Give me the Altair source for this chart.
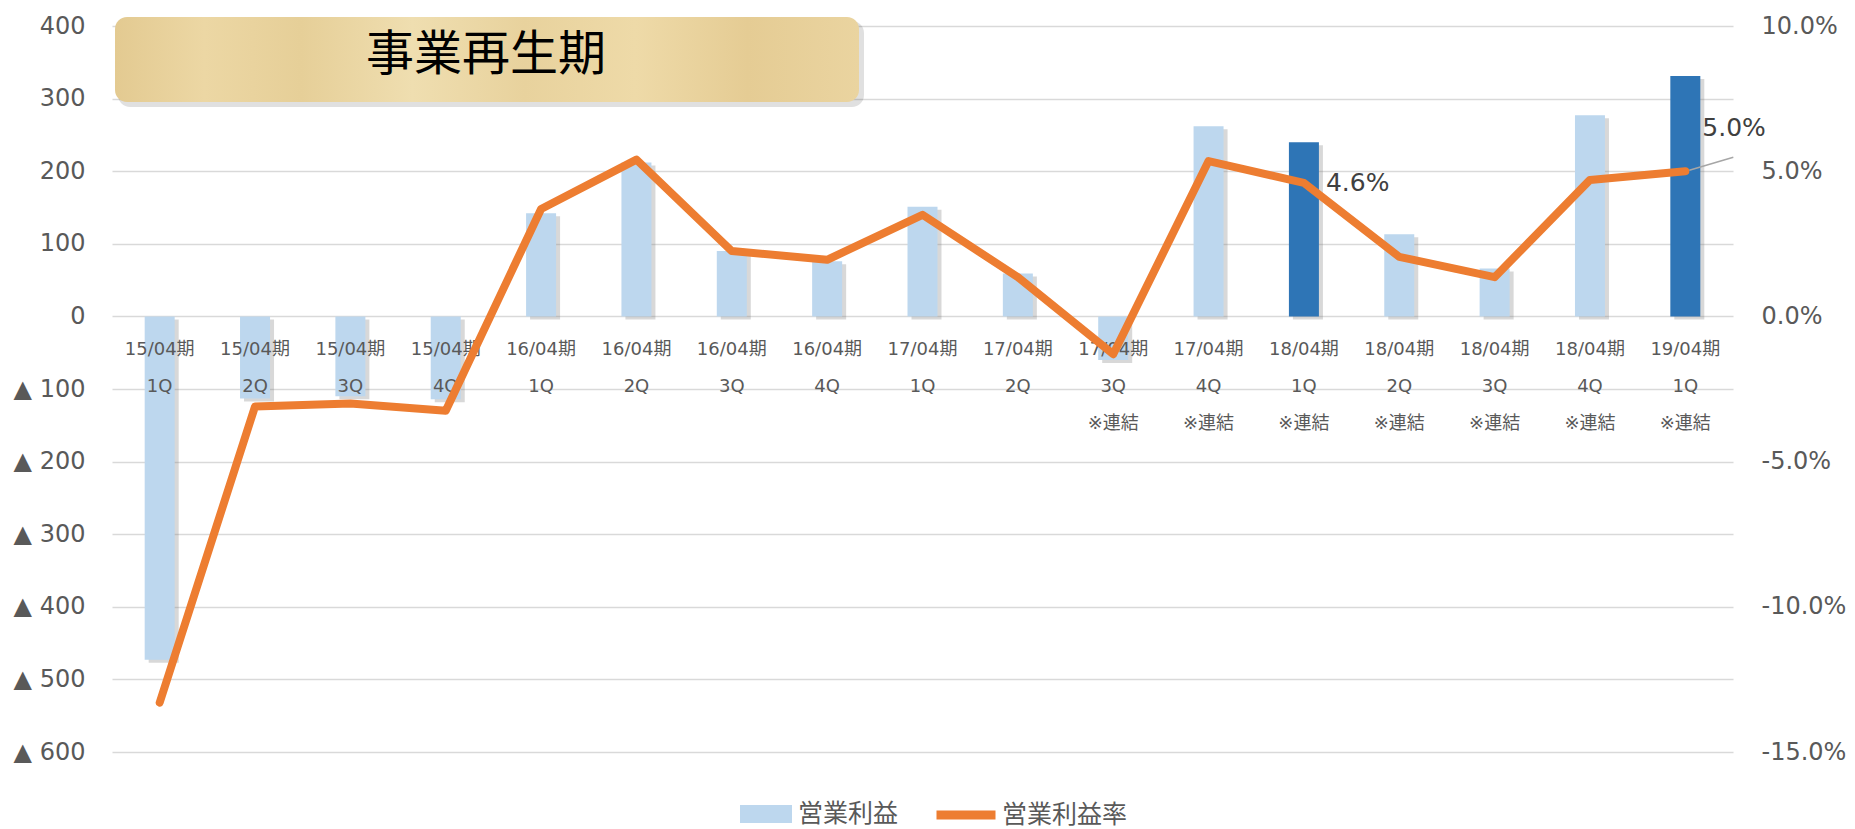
import altair as alt
import pandas as pd

# ---- data ----
periods = ["15/04期", "15/04期", "15/04期", "15/04期",
           "16/04期", "16/04期", "16/04期", "16/04期",
           "17/04期", "17/04期", "17/04期", "17/04期",
           "18/04期", "18/04期", "18/04期", "18/04期",
           "19/04期"]
quarters = ["1Q", "2Q", "3Q", "4Q", "1Q", "2Q", "3Q", "4Q",
            "1Q", "2Q", "3Q", "4Q", "1Q", "2Q", "3Q", "4Q", "1Q"]
consolidated = [0, 0, 0, 0, 0, 0, 0, 0, 0, 0, 1, 1, 1, 1, 1, 1, 1]
profit = [-473, -113, -110, -114, 142, 212, 90, 76, 151, 59, -60, 262, 240, 113, 66, 277, 331]
rate = [-13.3, -3.1, -3.0, -3.25, 3.7, 5.4, 2.25, 1.95, 3.5, 1.35, -1.3, 5.35, 4.6, 2.05, 1.35, 4.7, 5.0]
highlight = [0, 0, 0, 0, 0, 0, 0, 0, 0, 0, 0, 0, 1, 0, 0, 0, 1]
title_text = ["事業再生期"]

cats = [p + "|" + q + ("|※連結" if c else "") for p, q, c in zip(periods, quarters, consolidated)]
df = pd.DataFrame({
    "cat": cats, "profit": profit, "rate": rate, "hl": highlight,
    "s1": "営業利益", "s2": "営業利益率",
})

FONT = "DejaVu Sans, Noto Sans CJK JP"
GREY = "#595959"

x = alt.X("cat:N", sort=cats, axis=None, scale=alt.Scale(paddingInner=0, paddingOuter=0))
ly = alt.Scale(domain=[-600, 400], nice=False, zero=False)
ry = alt.Scale(domain=[-15, 10], nice=False, zero=False)

left_axis = alt.Axis(
    orient="left", values=list(range(-600, 401, 100)),
    labelExpr="datum.value < 0 ? '▲ ' + abs(datum.value) : '' + datum.value",
    grid=True, gridColor="#d9d9d9", gridWidth=1.5, domain=False, ticks=False,
    labelPadding=27, labelFontSize=24, labelFont=FONT, labelColor=GREY, title=None,
)
right_axis = alt.Axis(
    orient="right", values=[-15, -10, -5, 0, 5, 10],
    labelExpr="(datum.value < 0 ? '-' : '') + format(abs(datum.value), '.1f') + '%'",
    grid=False, domain=False, ticks=False,
    labelPadding=28, labelFontSize=24, labelFont=FONT, labelColor=GREY, title=None,
)

base = alt.Chart(df)

bar_shadow = base.mark_bar(size=30, color="#7f7f7f", opacity=0.3, xOffset=4, yOffset=3).encode(
    x=x, y=alt.Y("profit:Q", scale=ly, axis=left_axis))

bars = base.mark_bar(size=30).encode(
    x=x,
    y=alt.Y("profit:Q", scale=ly, axis=left_axis),
    fill=alt.condition(
        "datum.hl == 1", alt.value("#2E75B6"),
        alt.Fill("s1:N", scale=alt.Scale(domain=["営業利益"], range=["#BDD7EE"]),
                 legend=alt.Legend(title=None, orient="none", legendX=628, legendY=762,
                                   symbolType="M-1,-0.35H1V0.35H-1Z", symbolSize=2704,
                                   symbolStrokeWidth=0, labelFontSize=25, labelFont=FONT,
                                   labelColor=GREY, labelOffset=6, padding=0)),
    ),
)

xlabels = base.mark_text(baseline="top", lineBreak="|", lineHeight=37, fontSize=18,
                         font=FONT, color=GREY, dy=25).encode(
    x=x, y=alt.YDatum(0, type="quantitative", scale=ly, axis=left_axis), text="cat:N")

left = alt.layer(bar_shadow, bars, xlabels)

line = base.mark_line(strokeWidth=8, strokeCap="round", strokeJoin="round").encode(
    x=x,
    y=alt.Y("rate:Q", scale=ry, axis=right_axis),
    stroke=alt.Stroke("s2:N", scale=alt.Scale(domain=["営業利益率"], range=["#ED7D31"]),
                      legend=alt.Legend(title=None, orient="none", legendX=820, legendY=755,
                                        symbolType="stroke", symbolSize=3481,
                                        symbolStrokeWidth=9, labelFontSize=25, labelFont=FONT,
                                        labelColor=GREY, labelOffset=2, padding=0)),
)

lab1 = base.transform_filter(alt.datum.cat == cats[12]).transform_calculate(
    lbl="format(datum.rate, '.1f') + '%'").mark_text(
    align="left", baseline="middle", dx=22, fontSize=25, font=FONT, color="#404040").encode(
    x=x, y=alt.Y("rate:Q", scale=ry, axis=right_axis), text="lbl:N")

lab2 = base.transform_filter(alt.datum.cat == cats[16]).transform_calculate(
    lbl="format(datum.rate, '.1f') + '%'").mark_text(
    align="left", baseline="middle", dx=17, dy=-43, fontSize=25, font=FONT, color="#404040").encode(
    x=x, y=alt.Y("rate:Q", scale=ry, axis=right_axis), text="lbl:N")

leader = base.transform_filter(alt.datum.cat == cats[16]).mark_rule(
    color="#a6a6a6", strokeWidth=1.5, xOffset=4, x2Offset=48, yOffset=-1, y2Offset=-14).encode(
    x=alt.X("cat:N", sort=cats, axis=None, bandPosition=0.5),
    x2=alt.X2("cat:N", bandPosition=0.5),
    y=alt.Y("rate:Q", scale=ry, axis=right_axis),
    y2=alt.Y2("rate:Q"),
)

right = alt.layer(line, leader, lab1, lab2)

# ---- title plate ----
tdf = pd.DataFrame({"t": title_text})
wood = alt.Gradient(
    gradient="linear", x1=0, x2=1, y1=0, y2=0,
    stops=[
        alt.GradientStop(offset=0.0, color="#e3ca91"),
        alt.GradientStop(offset=0.12, color="#ecd7a4"),
        alt.GradientStop(offset=0.25, color="#e6cf98"),
        alt.GradientStop(offset=0.4, color="#efdeb0"),
        alt.GradientStop(offset=0.55, color="#e8d29d"),
        alt.GradientStop(offset=0.7, color="#eedaa8"),
        alt.GradientStop(offset=0.85, color="#e5cc94"),
        alt.GradientStop(offset=1.0, color="#ead4a0"),
    ],
)
plate_shadow = alt.Chart(tdf).mark_rect(cornerRadius=12, color="#000000", opacity=0.12).encode(
    x=alt.value(6), x2=alt.value(752), y=alt.value(-5), y2=alt.value(81))
plate = alt.Chart(tdf).mark_rect(cornerRadius=12, fill=wood).encode(
    x=alt.value(3), x2=alt.value(747), y=alt.value(-9), y2=alt.value(76))
plate_text = alt.Chart(tdf).mark_text(fontSize=48, font="Noto Sans CJK JP", color="#000000",
                                      baseline="middle", align="center").encode(
    x=alt.value(374), y=alt.value(30), text="t:N")

chart = alt.layer(left, right, plate_shadow, plate, plate_text).resolve_scale(
    y="independent", fill="independent", stroke="independent"
).properties(
    width=1621, height=726,
    padding={"left": 112, "top": 26, "right": 122, "bottom": 77},
    autosize=alt.AutoSizeParams(type="none"),
    background="white",
).configure_view(strokeWidth=0)

chart.save("out.html", embed_options={"renderer": "svg", "actions": False})
